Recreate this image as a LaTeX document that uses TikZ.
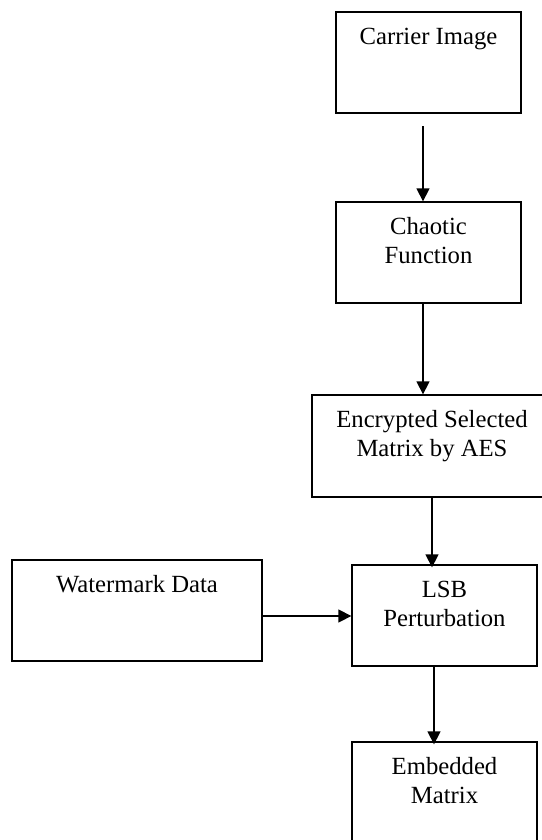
\documentclass[tikz,border=0pt]{standalone}
\usepackage{fontspec}
\setmainfont{Liberation Serif}
\usetikzlibrary{arrows.meta,calc}
\tikzset{
  box/.style={draw=black, line width=1.3bp, rectangle, inner sep=0pt, fill=white},
  lbl/.style={anchor=base, inner sep=0pt, font=\fontsize{24.7bp}{29bp}\selectfont},
  arr/.style={draw=black, line width=1.3bp, -{Triangle[width=13bp,length=13bp]}}
}
\newcommand{\tl}[1]{\begin{tabular}[t]{@{}c@{}}#1\end{tabular}}
\begin{document}
\begin{tikzpicture}[x=1bp,y=-1bp]
\useasboundingbox (0,0) rectangle (542,840);
\fill[white] (0,0) rectangle (542,840);
\clip (0,0) rectangle (542,840);
% boxes
\node[box, minimum width=185bp, minimum height=101bp] (carrier) at (428.5,62.5) {};
\node[box, minimum width=185bp, minimum height=101bp] (chaotic) at (428.5,252.5) {};
\node[box, minimum width=240bp, minimum height=102bp] (encr) at (432,446) {};
\node[box, minimum width=250bp, minimum height=101bp] (water) at (137,610.5) {};
\node[box, minimum width=185bp, minimum height=101bp] (lsb) at (444.5,615.5) {};
\node[box, minimum width=185bp, minimum height=120bp] (embed) at (444.5,802) {};
% labels
\node[lbl] (carrierT) at ($(carrier.north)+(0,33)$) {\tl{Carrier Image}};
\node[lbl] (chaoticT) at ($(chaotic.north)+(0,33)$) {\tl{Chaotic\\Function}};
\node[lbl] (encrT) at ($(encr.north)+(0,33)$) {\tl{Encrypted Selected\\Matrix by AES}};
\node[lbl] (waterT) at ($(water.north)+(0,33)$) {\tl{Watermark Data}};
\node[lbl] (lsbT) at ($(lsb.north)+(0,33)$) {\tl{LSB\\Perturbation}};
\node[lbl] (embedT) at ($(embed.north)+(0,33)$) {\tl{Embedded\\Matrix}};
% connectors
\coordinate (a1s) at (423,126);
\coordinate (a3x) at (432,0);
\coordinate (a4x) at (434,0);
\draw[arr] (a1s) -- (a1s |- chaotic.north);
\draw[arr] (chaotic.south -| a1s) -- (encr.north -| a1s);
\draw[arr, shorten >=-3bp] (encr.south -| a3x) -- (lsb.north -| a3x);
\draw[arr] (water.east |- 0,616) -- (lsb.west |- 0,616);
\draw[arr, shorten >=-3bp] (lsb.south -| a4x) -- (embed.north -| a4x);
\end{tikzpicture}
\end{document}
